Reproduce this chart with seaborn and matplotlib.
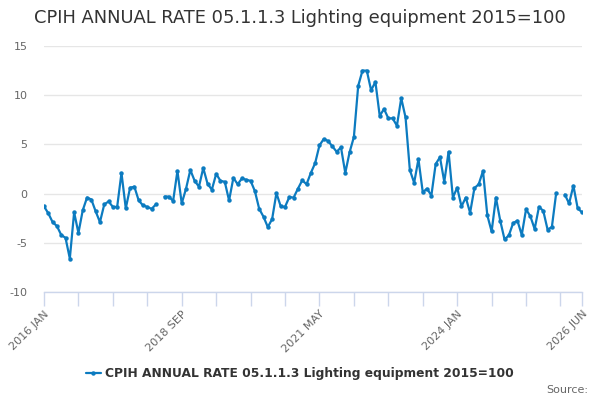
import numpy as np
import pandas as pd
import seaborn as sns
import matplotlib.pyplot as plt
from matplotlib.lines import Line2D

# Monthly values, Jan 2016 - Jun 2026 (None = no published value)
start_month = "2016-01"
n_months = 126
values = [
    -1.3, -2.0, -2.9, -3.3, -4.2, -4.5, -6.6, -1.9, -4.0, -1.7, -0.4, -0.6,      # 2016
    -1.8, -2.9, -1.1, -0.8, -1.35, -1.35, 2.1, -1.5, 0.6, 0.7, -0.7, -1.2,      # 2017
    -1.35, -1.55, -1.1, None, -0.3, -0.3, -0.75, 2.3, -1.0, 0.5, 2.4, 1.3,      # 2018
    0.7, 2.6, 1.0, 0.4, 2.0, 1.3, 1.2, -0.7, 1.6, 0.95, 1.55, 1.4,              # 2019
    1.3, 0.25, -1.55, -2.35, -3.4, -2.6, 0.05, -1.3, -1.35, -0.35, -0.4, 0.5,   # 2020
    1.35, 0.95, 2.1, 3.1, 4.9, 5.55, 5.35, 4.8, 4.25, 4.7, 2.1, 4.2,            # 2021
    5.75, 10.95, 12.5, 12.5, 10.5, 11.35, 7.9, 8.6, 7.65, 7.65, 6.9, 9.7,       # 2022
    7.75, 2.4, 1.1, 3.5, 0.15, 0.5, -0.2, 3.0, 3.7, 1.2, 4.25, -0.4,            # 2023
    0.6, -1.3, -0.4, -1.95, 0.55, 0.95, 2.3, -2.2, -3.85, -0.4, -2.75, -4.65,   # 2024
    -4.25, -3.0, -2.75, -4.2, -1.6, -2.3, -3.6, -1.35, -1.75, -3.65, -3.4, 0.05,  # 2025
    None, -0.1, -1.0, 0.8, -1.5, -1.9,                                          # 2026
]
series_name = "CPIH ANNUAL RATE 05.1.1.3 Lighting equipment 2015=100"
labelled_ticks = [0, 32, 64, 96, 125]

dates = pd.date_range(start_month, periods=n_months, freq="MS")
df = pd.DataFrame({"idx": np.arange(n_months),
                   "value": pd.to_numeric(pd.Series(values), errors="coerce")})
# split into segments at gaps so the line breaks there
df["segment"] = df["value"].isna().cumsum()
df = df.dropna()

line_color = "#0c7bc0"
grid_color = "#e6e6e6"
axis_color = "#ccd6eb"

sns.set_theme(style="white")
plt.rcParams["font.family"] = ["DejaVu Sans"]
plt.rcParams["axes.unicode_minus"] = False

fig = plt.figure(figsize=(6, 4), dpi=100)
ax = fig.add_axes([44 / 600, 1 - 292 / 400, (582 - 44) / 600, (292 - 46) / 400])

sns.lineplot(data=df, x="idx", y="value", units="segment", estimator=None,
             color=line_color, linewidth=1.6, marker="o", markersize=3.2,
             markeredgewidth=0, ax=ax, legend=False)

ax.set_xlim(0, 125)
ax.set_ylim(-10, 15)
ax.set_yticks([-10, -5, 0, 5, 10, 15])
ax.yaxis.grid(True, color=grid_color, linewidth=1)
ax.set_axisbelow(True)
ax.tick_params(axis="y", left=False, length=0, pad=12, labelsize=8, labelcolor="#666666")

tick_pos = list(range(0, 121, 8)) + [125]
tick_lab = [f"{dates[i].year} {dates[i].strftime('%b').upper()}" if i in labelled_ticks else ""
            for i in tick_pos]
ax.set_xticks(tick_pos)
ax.set_xticklabels(tick_lab, rotation=45, ha="right", rotation_mode="anchor")
ax.tick_params(axis="x", bottom=True, direction="out", length=10, width=1,
               color=axis_color, pad=2, labelsize=8, labelcolor="#666666")

for s in ["top", "right", "left"]:
    ax.spines[s].set_visible(False)
ax.spines["bottom"].set_color(axis_color)
ax.spines["bottom"].set_linewidth(1)
ax.set_xlabel("")
ax.set_ylabel("")

fig.text(0.5, 1 - 18 / 400, "CPIH ANNUAL RATE 05.1.1.3 Lighting equipment 2015=100",
         ha="center", va="center", fontsize=12.9, color="#333333")

handle = Line2D([], [], color=line_color, linewidth=1.6, marker="o", markersize=3.2,
                markeredgewidth=0)
leg = fig.legend([handle], [series_name], loc="center", bbox_to_anchor=(0.5, 1 - 374 / 400),
                 frameon=False, handlelength=1.2, handletextpad=0.4,
                 prop={"weight": "bold", "size": 8.8})
for t in leg.get_texts():
    t.set_color("#333333")

fig.text(588 / 600, 1 - 390 / 400, "Source:", ha="right", va="center",
         fontsize=8, color="#666666")

fig.savefig("out.png", dpi=100)
